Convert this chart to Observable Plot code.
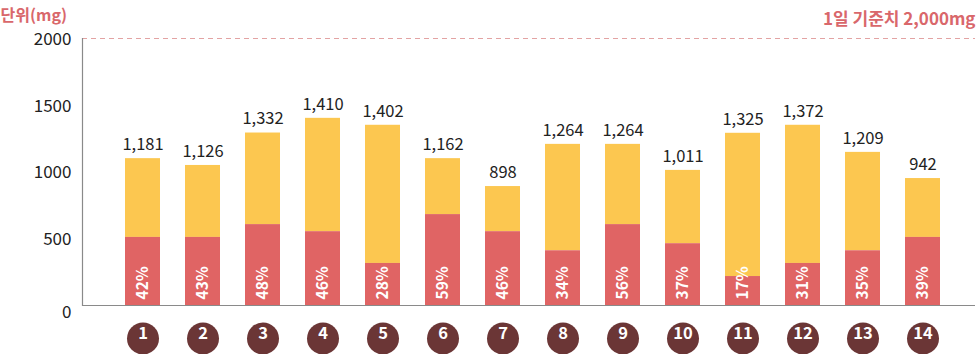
<!DOCTYPE html>
<html><head><meta charset="utf-8">
<script src="https://cdn.jsdelivr.net/npm/d3@7"></script>
<script src="https://cdn.jsdelivr.net/npm/@observablehq/plot@0.6"></script>
<style>
html,body{margin:0;padding:0;background:#fff;}
svg{display:block;font-family:"Noto Sans CJK KR","Noto Sans",sans-serif;}
</style></head>
<body><div id="chart"></div>
<script>
const categories = ["1","2","3","4","5","6","7","8","9","10","11","12","13","14"];
const totalLabels = [1181,1126,1332,1410,1402,1162,898,1264,1264,1011,1325,1372,1209,942];
const percentLabels = [42,43,48,46,28,59,46,34,56,37,17,31,35,39];
// bar heights as drawn in the picture (mg)
const barTotal = [1100,1049,1292,1402,1350,1100,891,1207,1207,1012,1290,1350,1147,951];
const barRed = [510,510,606,553,315,681,553,410,606,463,217,315,410,510];
const yTicks = [500,1000,1500,2000];
const unitLabel = "단위(mg)";
const refLabel = "1일 기준치 2,000mg";
const refValue = 2000;

const rows = categories.map((c,i)=>({c, total: totalLabels[i], pct: percentLabels[i], top: barTotal[i], red: barRed[i]}));
const fmt = d3.format(",");
const RED = "#e06464", YEL = "#fcc750", DARK = "#6b3636", HEAD = "#d9676b";

const chart = Plot.plot({
  width: 978, height: 354,
  marginTop: 38, marginBottom: 49, marginLeft: 82, marginRight: 3,
  style: {fontFamily: '"Noto Sans CJK KR","Noto Sans",sans-serif', overflow: "visible"},
  x: {type: "band", domain: categories, range: [82, 983], paddingInner: 25/60, paddingOuter: 43/60, axis: null},
  y: {domain: [0, 2000], axis: null},
  marks: [
    Plot.ruleY([refValue], {stroke: "#e3a3a3", strokeDasharray: "5,4", strokeWidth: 1}),
    Plot.barY(rows, {x: "c", y1: "red", y2: "top", fill: YEL}),
    Plot.barY(rows, {x: "c", y1: 0, y2: "red", fill: RED}),
    Plot.ruleY([0], {stroke: "#8a8a8a", strokeWidth: 1.2}),
    Plot.frame({anchor: "left", stroke: "#8a8a8a", strokeWidth: 1.2}),
    Plot.axisY({ticks: yTicks, tickSize: 0, tickPadding: 11, fontSize: 17, dy: 1, tickFormat: d => String(d), fill: "#222"}),
    Plot.axisY({ticks: [0], tickSize: 0, tickPadding: 11, fontSize: 17, dy: 7, tickFormat: d => String(d), fill: "#222"}),
    Plot.text(rows, {x: "c", y: "top", text: d => fmt(d.total), dy: -14, fontSize: 16.5, fill: "#222"}),
    Plot.text(rows, {x: "c", y: 0, text: d => d.pct + "%", rotate: -90, textAnchor: "start", dy: -6, fontSize: 15.5, fontWeight: "bold", fill: "#fff"}),
    Plot.dot(rows, {x: "c", frameAnchor: "bottom", dy: 33, r: 16, fill: DARK}),
    Plot.text(rows, {x: "c", frameAnchor: "bottom", dy: 33, text: "c", fill: "#fff", fontSize: 16.5, fontWeight: "bold"}),
    Plot.text([unitLabel], {frameAnchor: "top-left", dx: -82, dy: -29, textAnchor: "start", fontSize: 16, fontWeight: "bold", fill: HEAD}),
    Plot.text([refLabel], {frameAnchor: "top-right", dx: 0, dy: -26, textAnchor: "end", fontSize: 17, fontWeight: "bold", fill: HEAD})
  ]
});
document.getElementById("chart").appendChild(chart);
</script></body></html>
